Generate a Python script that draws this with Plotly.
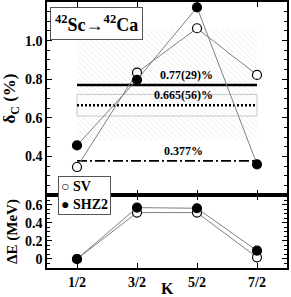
import plotly.graph_objects as go

K_labels = ["1/2", "3/2", "5/2", "7/2"]
K_pos = [0.5, 1.5, 2.5, 3.5]

dc_sv = [0.345, 0.834, 1.064, 0.822]
dc_shz2 = [0.457, 0.797, 1.172, 0.359]

de_sv = [0.0, 0.515, 0.515, 0.018]
de_shz2 = [0.0, 0.57, 0.563, 0.092]

exp_val, exp_err = 0.77, 0.29
avg_val, avg_err = 0.665, 0.056
other_val = 0.377

FONT = "Liberation Serif"
fig = go.Figure()

xs = [K_pos[0], K_pos[-1], K_pos[-1], K_pos[0], K_pos[0]]
lo, hi = exp_val - exp_err, exp_val + exp_err
fig.add_trace(go.Scatter(x=xs, y=[lo, lo, hi, hi, lo], fill="toself", mode="lines",
                         line=dict(width=0), fillcolor="rgba(0,0,0,0)",
                         fillpattern=dict(shape="\\", fgcolor="#cccccc", bgcolor="white", size=4, solidity=0.18),
                         xaxis="x", yaxis="y", showlegend=False, hoverinfo="skip"))
lo2, hi2 = avg_val - avg_err, avg_val + avg_err
fig.add_trace(go.Scatter(x=xs, y=[lo2, lo2, hi2, hi2, lo2], fill="toself", mode="lines",
                         line=dict(width=1, color="#c8c8c8"), fillcolor="rgba(0,0,0,0)",
                         fillpattern=dict(shape="\\", fgcolor="#d4d4d4", bgcolor="white", size=3, solidity=0.25),
                         xaxis="x", yaxis="y", showlegend=False, hoverinfo="skip"))

fig.add_trace(go.Scatter(x=[K_pos[0], K_pos[-1]], y=[exp_val, exp_val], mode="lines",
                         line=dict(color="black", width=2.5), xaxis="x", yaxis="y",
                         showlegend=False, hoverinfo="skip"))
fig.add_trace(go.Scatter(x=[K_pos[0], K_pos[-1]], y=[avg_val, avg_val], mode="lines",
                         line=dict(color="black", width=2.5, dash="2px,2px"), xaxis="x", yaxis="y",
                         showlegend=False, hoverinfo="skip"))
fig.add_trace(go.Scatter(x=[K_pos[0], K_pos[-1]], y=[other_val, other_val], mode="lines",
                         line=dict(color="black", width=1.8, dash="10px,3px,2px,3px"), xaxis="x", yaxis="y",
                         showlegend=False, hoverinfo="skip"))

mk_open = dict(symbol="circle", size=9, color="white", line=dict(color="black", width=1.2))
mk_fill = dict(symbol="circle", size=9, color="black", line=dict(color="black", width=1.2))
ln = dict(color="#808080", width=1)

fig.add_trace(go.Scatter(x=K_pos, y=dc_sv, mode="lines+markers", marker=mk_open, line=ln,
                         name="SV", xaxis="x", yaxis="y", showlegend=False))
fig.add_trace(go.Scatter(x=K_pos, y=dc_shz2, mode="lines+markers", marker=mk_fill, line=ln,
                         name="SHZ2", xaxis="x", yaxis="y", showlegend=False))
fig.add_trace(go.Scatter(x=K_pos, y=de_sv, mode="lines+markers", marker=mk_open, line=ln,
                         name="SV", xaxis="x2", yaxis="y2", showlegend=False))
fig.add_trace(go.Scatter(x=K_pos, y=de_shz2, mode="lines+markers", marker=mk_fill, line=ln,
                         name="SHZ2", xaxis="x2", yaxis="y2", showlegend=False))

split = 73 / 266
axfont = dict(family=FONT, size=14, color="black")
common_x = dict(range=[0, 4], tickvals=K_pos, ticks="inside", ticklen=5, tickwidth=1.2,
                mirror="allticks", showline=True, linecolor="black", linewidth=1.5,
                showgrid=False, zeroline=False, tickcolor="black", automargin=False)
fig.update_layout(
    width=291, height=297, margin=dict(l=47, r=4, t=2, b=29, autoexpand=False),
    paper_bgcolor="white", plot_bgcolor="white",
    font=dict(family=FONT, color="black"),
    showlegend=False,
    xaxis=dict(**common_x, domain=[0, 1], anchor="y", showticklabels=False),
    yaxis=dict(domain=[split, 1], range=[0.2, 1.2], tickvals=[0.4, 0.6, 0.8, 1.0],
               ticktext=["<b>0.4</b>", "<b>0.6</b>", "<b>0.8</b>", "<b>1.0</b>"],
               ticks="inside", ticklen=5, tickwidth=1.2, tickcolor="black", mirror="allticks",
               showline=True, linecolor="black", linewidth=1.5, showgrid=False, zeroline=False,
               tickfont=axfont, automargin=False,
               minor=dict(dtick=0.05, ticks="inside", ticklen=3, tickcolor="black", showgrid=False),
               title=dict(text="<b>δ<sub>C</sub> (%)</b>", font=dict(family=FONT, size=17), standoff=6)),
    xaxis2=dict(**common_x, domain=[0, 1], anchor="y2",
                ticktext=["<b>%s</b>" % t for t in K_labels], tickfont=axfont),
    yaxis2=dict(domain=[0, split], range=[-0.1, 0.71], tickvals=[0, 0.2, 0.4, 0.6],
                ticktext=["<b>0</b>", "<b>0.2</b>", "<b>0.4</b>", "<b>0.6</b>"],
                ticks="inside", ticklen=5, tickwidth=1.2, tickcolor="black", mirror="allticks",
                showline=True, linecolor="black", linewidth=1.5, showgrid=False, zeroline=False,
                tickfont=axfont, automargin=False,
                minor=dict(dtick=0.05, ticks="inside", ticklen=3, tickcolor="black", showgrid=False),
                title=dict(text="<b>ΔE (MeV)</b>", font=dict(family=FONT, size=15), standoff=4)),
)

def ann(x, y, text, size=12):
    fig.add_annotation(x=x, y=y, xref="x", yref="y", text="<b>%s</b>" % text, showarrow=False,
                       font=dict(family=FONT, size=size, color="black"), yanchor="bottom", yshift=1)

ann(2.33, exp_val, "%.2f(%d)%%" % (exp_val, round(exp_err * 100)))
ann(2.28, avg_val, "%.3f(%d)%%" % (avg_val, round(avg_err * 1000)))
ann(2.27, other_val, "%.3f%%" % other_val)

# title box
fig.add_annotation(x=(96 - 47) / 240, y=1 - (23 - 2) / 266, xref="paper", yref="paper",
                   xanchor="center", yanchor="middle",
                   text="<b><sup>42</sup>Sc→<sup>42</sup>Ca</b>", showarrow=False,
                   font=dict(family=FONT, size=18, color="black"),
                   bordercolor="#555", borderwidth=1, borderpad=4, bgcolor="white")

# legend box
fig.add_annotation(x=(58 - 47) / 240, y=1 - (195.5 - 2) / 266, xref="paper", yref="paper",
                   xanchor="left", yanchor="middle", align="left",
                   text="<b>○ SV<br>● SHZ2</b>", showarrow=False,
                   font=dict(family=FONT, size=14, color="black"),
                   bordercolor="#555", borderwidth=1, borderpad=2, bgcolor="white")

# x-axis title
fig.add_annotation(x=(167 - 47) / 240, y=0, xref="paper", yref="paper",
                   xanchor="center", yanchor="middle", yshift=-(288 - 268),
                   text="<b>K</b>", showarrow=False,
                   font=dict(family=FONT, size=16, color="black"))

fig.write_html("out.html", config={"displayModeBar": False},
               post_script="document.body.style.margin='0';document.body.style.overflow='hidden';")
